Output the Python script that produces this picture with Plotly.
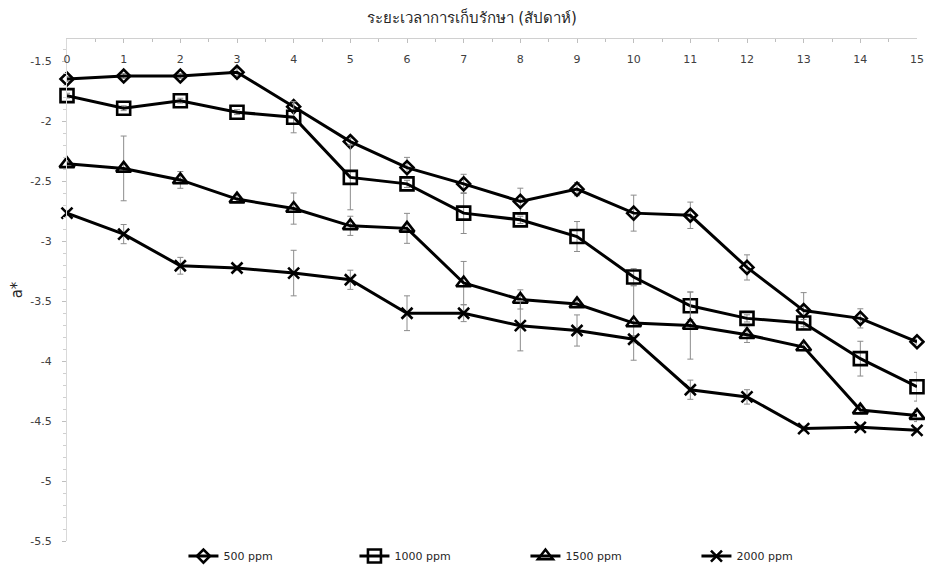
import plotly.graph_objects as go

weeks = list(range(16))
series_names = ["500 ppm", "1000 ppm", "1500 ppm", "2000 ppm"]
y_tickvals = [-5.5, -5, -4.5, -4, -3.5, -3, -2.5, -2, -1.5]
y_ticktext = ["-5.5", "-5", "-4.5", "-4", "-3.5", "-3", "-2.5", "-2", "-1.5"]

a_500 = [-1.646, -1.621, -1.621, -1.590, -1.877, -2.168, -2.385, -2.521,
         -2.667, -2.565, -2.765, -2.783, -3.218, -3.578, -3.643, -3.838]
a_1000 = [-1.785, -1.890, -1.827, -1.923, -1.965, -2.467, -2.521, -2.765,
          -2.821, -2.960, -3.298, -3.538, -3.643, -3.682, -3.979, -4.213]
a_1500 = [-2.354, -2.392, -2.488, -2.648, -2.727, -2.871, -2.892, -3.348,
          -3.485, -3.523, -3.682, -3.703, -3.779, -3.882, -4.408, -4.454]
a_2000 = [-2.765, -2.940, -3.204, -3.223, -3.265, -3.321, -3.600, -3.600,
          -3.704, -3.744, -3.817, -4.238, -4.298, -4.562, -4.552, -4.577]

err_500 = [0.02, 0.02, 0.02, 0.03, 0.03, 0.03, 0.085, 0.08, 0.11, 0.055, 0.15, 0.11, 0.105, 0.15, 0.08, 0.02]
err_1000 = [0.02, 0.02, 0.02, 0.02, 0.13, 0.27, 0.03, 0.17, 0.03, 0.125, 0.07, 0.115, 0.03, 0.03, 0.145, 0.12]
err_1500 = [0.02, 0.27, 0.07, 0.03, 0.13, 0.08, 0.125, 0.18, 0.08, 0.03, 0.31, 0.28, 0.065, 0.03, 0.03, 0.05]
err_2000 = [0.02, 0.08, 0.07, 0.02, 0.19, 0.08, 0.145, 0.07, 0.21, 0.13, 0.03, 0.08, 0.06, 0.02, 0.02, 0.02]

values = [a_500, a_1000, a_1500, a_2000]
errors = [err_500, err_1000, err_1500, err_2000]
symbols = ["diamond-open", "square-open", "triangle-up-open", "x-thin-open"]
sizes = [10, 13, 13, 11]

fig = go.Figure()
for name, v, e, s, sz in zip(series_names, values, errors, symbols, sizes):
    fig.add_trace(go.Scatter(
        x=weeks, y=v, name=name, mode="lines+markers",
        line=dict(color="black", width=3),
        marker=dict(symbol=s, size=sz, color="black",
                    line=dict(color="black", width=2.6)),
        error_y=dict(type="data", array=e, visible=True,
                     color="#8c8c8c", thickness=1, width=3),
        cliponaxis=False,
    ))

# empty helper trace so the label-only top axis (x2) gets drawn
fig.add_trace(go.Scatter(x=[], y=[], xaxis="x2", yaxis="y", showlegend=False,
                         hoverinfo="skip", mode="lines"))

fig.update_layout(
    width=925, height=570,
    margin=dict(l=67, r=8, t=39, b=29, autoexpand=False),
    paper_bgcolor="white", plot_bgcolor="white",
    font=dict(family="DejaVu Sans, Noto Sans, sans-serif", color="#404040"),
    title=dict(text="ระยะเวลาการเก็บรักษา (สัปดาห์)", x=0.51, xanchor="center",
               y=0.968, yanchor="middle",
               font=dict(size=15, color="#262626")),
    showlegend=True,
    legend=dict(orientation="h", x=0.137, xanchor="left", y=-0.03, yanchor="middle",
                entrywidth=126, entrywidthmode="pixels",
                font=dict(size=11, color="#262626"),
                itemwidth=30),
    xaxis=dict(
        range=[0, 15], side="top", tickmode="linear", tick0=0, dtick=1,
        ticks="inside", ticklen=4, tickcolor="#bfbfbf",
        showticklabels=False,
        showline=True, linecolor="#d0d0d0", linewidth=1,
        showgrid=False, zeroline=False,
        minor=dict(ticks="inside", ticklen=3, tickcolor="#bfbfbf", dtick=0.5, showgrid=False),
    ),
    xaxis2=dict(
        overlaying="x", range=[0, 15], anchor="free", position=0.977, side="bottom",
        tickmode="linear", tick0=0, dtick=1, ticks="", showline=False,
        showgrid=False, zeroline=False, tickfont=dict(size=11, color="#404040"),
    ),
    yaxis=dict(
        range=[-5.5, -1.3125], tickmode="array", tickvals=y_tickvals, ticktext=y_ticktext,
        ticks="outside", ticklen=4, tickcolor="#bfbfbf", ticklabelstandoff=8,
        showline=True, linecolor="#d9d9d9", linewidth=1,
        showgrid=False, zeroline=False,
        tickfont=dict(size=11, color="#404040"),
        title=dict(text="a*", font=dict(size=15, color="#262626"), standoff=4),
        minor=dict(ticks="outside", ticklen=3, tickcolor="#d0d0d0", tick0=-5.5, dtick=0.1,
                   tickmode="linear", showgrid=False),
    ),
)

fig.write_html("out.html")
